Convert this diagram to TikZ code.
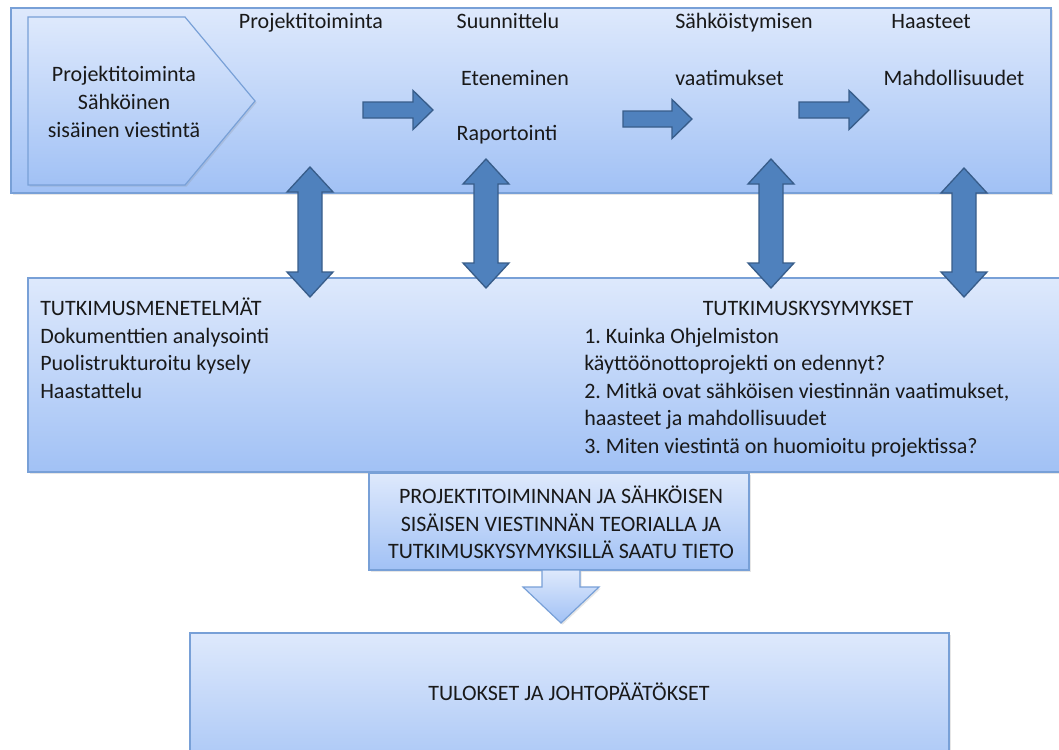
\documentclass[tikz,border=0pt]{standalone}
\usepackage{fontspec}
\setmainfont{Carlito}
\frenchspacing
\usetikzlibrary{shadows}
\definecolor{gtop}{RGB}{222,233,252}
\definecolor{gbot}{RGB}{161,193,245}
\definecolor{bline}{RGB}{120,160,215}
\definecolor{afill}{RGB}{79,129,189}
\definecolor{aline}{RGB}{56,93,138}
\newcommand\vdarr[3]{\draw[blockarrow] ({#1-12},{#2+25}) -- ({#1-23},{#2+25}) -- (#1,#2) -- ({#1+23},{#2+25}) -- ({#1+12},{#2+25}) -- ({#1+12},{#3-25}) -- ({#1+23},{#3-25}) -- (#1,#3) -- ({#1-23},{#3-25}) -- ({#1-12},{#3-25}) -- cycle;}
\newcommand\hrarr[3]{\draw[blockarrow] (#1,{#2-8}) -- ({#3-20},{#2-8}) -- ({#3-20},{#2-19.5}) -- (#3,#2) -- ({#3-20},{#2+19.5}) -- ({#3-20},{#2+8}) -- (#1,{#2+8}) -- cycle;}
\tikzset{
 panel/.style={draw=bline, line width=0.9pt, top color=gtop, bottom color=gbot,
   drop shadow={shadow xshift=1.2pt, shadow yshift=-1.2pt, opacity=0.2}},
 blockarrow/.style={fill=afill, draw=aline, line width=1pt, line join=miter},
 txt/.style={font=\fontsize{16.5}{20}\selectfont\frenchspacing, inner sep=0pt, anchor=base, text=black!90},
}
\begin{document}
\begin{tikzpicture}[x=0.75pt,y=-0.75pt]
\useasboundingbox (0,0) rectangle (1059,749);
% boxes
\path[panel] (11,8) rectangle (1051,193);
\path[panel] (28,17) -- (185,17) -- (255,101) -- (185,185) -- (28,185) -- cycle;
\path[panel] (28,278) rectangle (1075,472);
\path[panel] (369,473) rectangle (749,570);
\path[panel] (542,570) -- (580,570) -- (580,587) -- (599,587) -- (561,623) -- (523,587) -- (542,587) -- cycle;
\path[panel] (190,633) rectangle (949,790);
% pentagon text
\node[txt] (p1) at (124,82) {Projektitoiminta};
\node[txt] (p2) at (124,109) {Sähköinen};
\node[txt] (p3) at (124,137) {sisäinen viestintä};
% top labels
\node[txt] (t1) at (311,29) {Projektitoiminta};
\node[txt] (t2) at (508,29) {Suunnittelu};
\node[txt] (t3) at (515,85) {Eteneminen};
\node[txt] (t4) at (507,140) {Raportointi};
\node[txt,anchor=base west] (t5) at (675,29) {Sähköistymisen};
\node[txt,anchor=base west] (t6) at (675,85) {vaatimukset};
\node[txt] (t7) at (931,29) {Haasteet};
\node[txt] (t8) at (954,85) {Mahdollisuudet};
% arrows top
\hrarr{363}{110}{433}
\hrarr{623}{119}{692}
\hrarr{799}{110}{869}
\vdarr{310}{167}{297}
\vdarr{486}{159}{288}
\vdarr{771}{159}{288}
\vdarr{964}{168}{297}
% middle box text
\node[txt,anchor=base west] (m1) at (40,315) {TUTKIMUSMENETELMÄT};
\node[txt,anchor=base west] (m2) at (40,343) {Dokumenttien analysointi};
\node[txt,anchor=base west] (m3) at (40,370) {Puolistrukturoitu kysely};
\node[txt,anchor=base west] (m4) at (40,398) {Haastattelu};
\node[txt] (q0) at (808,315) {TUTKIMUSKYSYMYKSET};
\node[txt,anchor=base west] (q1) at (584,343) {1. Kuinka Ohjelmiston};
\node[txt,anchor=base west] (q2) at (584,370) {käyttöönottoprojekti on edennyt?};
\node[txt,anchor=base west] (q3) at (584,398) {2. Mitkä ovat sähköisen viestinnän vaatimukset,};
\node[txt,anchor=base west] (q4) at (584,425) {haasteet ja mahdollisuudet};
\node[txt,anchor=base west] (q5) at (584,453) {3. Miten viestintä on huomioitu projektissa?};
% small box text
\node[txt] (s1) at (561,503) {PROJEKTITOIMINNAN JA SÄHKÖISEN};
\node[txt] (s2) at (561,531) {SISÄISEN VIESTINNÄN TEORIALLA JA};
\node[txt] (s3) at (561,558) {TUTKIMUSKYSYMYKSILLÄ SAATU TIETO};
% bottom
\node[txt] (b1) at (569,700) {TULOKSET JA JOHTOPÄÄTÖKSET};
\end{tikzpicture}
\end{document}
